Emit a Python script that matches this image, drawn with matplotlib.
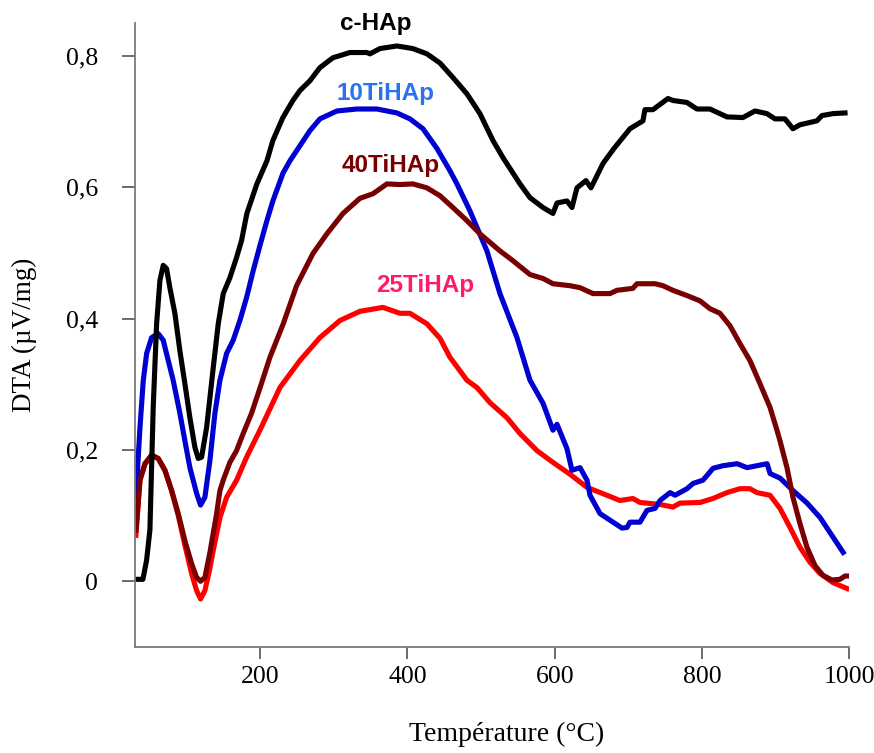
import numpy as np
import matplotlib
matplotlib.use("Agg")
import matplotlib.pyplot as plt

# c-HAp (black)
tBlack = [30, 40.7, 45.7, 50.2, 54.7, 59.3, 63.8, 68.3, 72.8, 77.3, 84.1, 90.9, 97.7, 104.5,
          111.3, 115.8, 120.4, 127.2, 136.2, 143.0, 149.8, 158.8, 167.9, 174.7, 181.9, 195.5,
          209.1, 217.2, 230.8, 244.4, 253.9, 267.5, 281.1, 298.7, 321.8, 344.9, 349.0, 362.6,
          385.7, 407.4, 426.4, 444.1, 461.7, 480.8, 498.4, 516.1, 529.7, 552.8, 566.4, 584.1,
          597.6, 603.1, 616.6, 623.4, 630.2, 642.4, 649.2, 665.5, 680.5, 702.2, 719.8, 722.5,
          733.4, 753.8, 760.5, 779.5, 793.1, 810.8, 833.9, 855.6, 871.9, 888.2, 899.1, 912.6,
          923.5, 933.0, 956.1, 962.9, 977.9, 994.2]
vBlack = [0.003, 0.003, 0.032, 0.078, 0.265, 0.392, 0.458, 0.481, 0.476, 0.447, 0.408, 0.351,
          0.301, 0.249, 0.204, 0.187, 0.189, 0.234, 0.325, 0.392, 0.438, 0.462, 0.493, 0.519,
          0.560, 0.605, 0.640, 0.671, 0.706, 0.732, 0.747, 0.762, 0.782, 0.797, 0.805, 0.805,
          0.803, 0.811, 0.815, 0.811, 0.803, 0.789, 0.767, 0.742, 0.712, 0.671, 0.645, 0.605,
          0.584, 0.569, 0.560, 0.576, 0.579, 0.569, 0.599, 0.610, 0.599, 0.636, 0.659, 0.689,
          0.701, 0.718, 0.718, 0.735, 0.732, 0.729, 0.719, 0.719, 0.707, 0.706, 0.716, 0.712,
          0.704, 0.704, 0.689, 0.695, 0.701, 0.709, 0.712, 0.713]

# 10TiHAp (blue)
tBlue = [31.2, 36.7, 41.2, 45.8, 52.5, 61.5, 68.3, 75.1, 81.8, 90.9, 97.7, 104.5, 113.6, 119.0,
         124.9, 131.7, 138.5, 145.3, 154.4, 163.3, 172.4, 181.5, 190.5, 199.6, 209.1, 217.2,
         230.8, 240.3, 253.9, 267.5, 281.1, 304.2, 331.3, 358.5, 385.7, 403.3, 421.0, 440.0,
         457.7, 467.2, 484.8, 507.9, 525.6, 548.7, 566.4, 584.1, 597.6, 603.1, 616.6, 623.4,
         634.3, 643.8, 647.9, 661.5, 675.1, 691.4, 698.2, 702.2, 715.8, 725.3, 736.2, 743.0,
         756.6, 763.4, 779.7, 787.9, 801.4, 815.0, 828.6, 847.6, 861.2, 888.4, 892.5, 906.1,
         923.7, 942.8, 960.4, 978.1, 991.7]
vBlue = [0.128, 0.234, 0.306, 0.347, 0.371, 0.377, 0.367, 0.336, 0.306, 0.256, 0.214, 0.173,
         0.134, 0.116, 0.128, 0.184, 0.256, 0.306, 0.347, 0.367, 0.397, 0.432, 0.473, 0.511,
         0.549, 0.579, 0.621, 0.640, 0.663, 0.686, 0.704, 0.716, 0.719, 0.719, 0.713, 0.704,
         0.689, 0.659, 0.625, 0.605, 0.564, 0.503, 0.438, 0.371, 0.306, 0.271, 0.230, 0.239,
         0.202, 0.169, 0.173, 0.154, 0.131, 0.103, 0.093, 0.081, 0.082, 0.090, 0.090, 0.108,
         0.111, 0.123, 0.135, 0.131, 0.141, 0.149, 0.154, 0.172, 0.176, 0.179, 0.173, 0.179,
         0.164, 0.157, 0.138, 0.119, 0.097, 0.067, 0.044]

# 40TiHAp (dark red)
tDark = [31.2, 36.7, 43.5, 52.5, 61.5, 70.6, 79.7, 88.7, 97.7, 106.8, 113.6, 119.0, 124.9,
         131.7, 140.8, 145.3, 149.8, 158.8, 167.9, 176.9, 188.3, 199.6, 213.2, 231.3, 249.4,
         271.6, 290.6, 312.4, 335.4, 353.1, 372.1, 389.7, 407.4, 426.4, 444.1, 461.7, 480.8,
         498.4, 525.6, 543.3, 566.4, 584.1, 597.6, 620.7, 634.3, 651.9, 675.1, 684.6, 706.2,
         711.7, 736.2, 747.0, 760.5, 779.6, 797.2, 810.8, 824.4, 838.0, 851.5, 865.1, 878.7,
         892.3, 901.8, 905.9, 915.4, 923.5, 933.0, 942.5, 953.4, 964.3, 976.5, 987.4, 994.2,
         1000]
vDark = [0.078, 0.154, 0.179, 0.192, 0.187, 0.169, 0.138, 0.103, 0.062, 0.027, 0.006, 0.0,
         0.006, 0.044, 0.103, 0.138, 0.154, 0.181, 0.199, 0.225, 0.256, 0.294, 0.341, 0.392,
         0.450, 0.499, 0.529, 0.560, 0.583, 0.590, 0.605, 0.604, 0.605, 0.599, 0.587, 0.569,
         0.549, 0.529, 0.503, 0.488, 0.467, 0.461, 0.453, 0.450, 0.447, 0.438, 0.438, 0.443,
         0.446, 0.453, 0.453, 0.450, 0.443, 0.435, 0.427, 0.415, 0.408, 0.389, 0.362, 0.336,
         0.301, 0.265, 0.230, 0.214, 0.173, 0.128, 0.088, 0.052, 0.024, 0.009, 0.002, 0.003,
         0.008, 0.008]

# 25TiHAp (red)
tRed = [31.2, 36.7, 43.5, 52.5, 61.5, 70.6, 79.7, 88.7, 97.7, 106.8, 113.6, 119.0, 124.9,
        131.7, 136.2, 145.3, 154.4, 168.0, 181.5, 199.6, 226.8, 253.9, 281.1, 308.3, 335.4,
        366.7, 389.7, 403.3, 426.4, 444.1, 457.7, 480.8, 494.3, 512.0, 535.1, 552.8, 575.8,
        597.6, 620.7, 643.8, 670.9, 688.6, 706.2, 715.8, 742.9, 760.5, 770.0, 797.2, 814.8,
        833.9, 851.5, 865.1, 874.6, 892.3, 905.9, 919.5, 933.0, 946.6, 960.2, 977.9, 996.9]
vRed = [0.070, 0.154, 0.179, 0.192, 0.187, 0.169, 0.138, 0.100, 0.055, 0.012, -0.014, -0.027,
        -0.014, 0.020, 0.047, 0.097, 0.128, 0.154, 0.189, 0.230, 0.295, 0.336, 0.371, 0.397,
        0.411, 0.417, 0.408, 0.408, 0.392, 0.370, 0.341, 0.306, 0.295, 0.272, 0.249, 0.225,
        0.199, 0.181, 0.163, 0.143, 0.131, 0.123, 0.126, 0.120, 0.117, 0.113, 0.119, 0.120,
        0.126, 0.135, 0.141, 0.141, 0.135, 0.131, 0.111, 0.082, 0.052, 0.029, 0.012, -0.002,
        -0.011]

xTicks = [200, 400, 600, 800, 1000]
yTicks = [0, 0.2, 0.4, 0.6, 0.8]
yTickLabels = ["0", "0,2", "0,4", "0,6", "0,8"]

serif = "Liberation Serif"
sans = "Liberation Sans"

fig = plt.figure(figsize=(8.74, 7.53), dpi=100)
ax = fig.add_axes([0.1545, 0.1408, 0.8172, 0.8287])

lw = 3.7
ax.plot(tRed, vRed, color="#FF0000", lw=lw, solid_joinstyle="round")
ax.plot(tBlue, vBlue, color="#0000D0", lw=lw, solid_joinstyle="round")
ax.plot(tDark, vDark, color="#780000", lw=lw, solid_joinstyle="round")
ax.plot(tBlack, vBlack, color="black", lw=lw, solid_joinstyle="round")

ax.set_xlim(30, 1000)
ax.set_ylim(-0.1, 0.85)

ax.spines["top"].set_visible(False)
ax.spines["right"].set_visible(False)
for s in ["left", "bottom"]:
    ax.spines[s].set_color("#7a7a7a")
    ax.spines[s].set_linewidth(1.3)

ax.set_xticks(xTicks)
ax.set_xticklabels([str(t) for t in xTicks])
ax.set_yticks(yTicks)
ax.set_yticklabels(yTickLabels)
ax.tick_params(axis="x", direction="out", length=8.6, width=1.1, color="#444444", pad=5)
ax.tick_params(axis="y", direction="out", length=9.4, width=1.1, color="#444444", pad=17)
for lab in ax.get_xticklabels() + ax.get_yticklabels():
    lab.set_fontfamily(serif)
    lab.set_fontsize(18.5)

ax.set_xlabel("Température (°C)", fontfamily=serif, fontsize=20)
ax.xaxis.set_label_coords(0.52, -0.12)
ax.set_ylabel("DTA (µV/mg)", fontfamily=serif, fontsize=19.5)
ax.yaxis.set_label_coords(-0.137, 0.5)

# curve labels
ax.text(357, 0.839, "c-HAp", color="black", fontfamily=sans, fontweight="bold",
        fontsize=17.5, ha="center", va="baseline", clip_on=False)
ax.text(370.7, 0.733, "10TiHAp", color="#2A72F0", fontfamily=sans, fontweight="bold",
        fontsize=17.5, ha="center", va="baseline")
ax.text(377.5, 0.6225, "40TiHAp", color="#780000", fontfamily=sans, fontweight="bold",
        fontsize=17.5, ha="center", va="baseline")
ax.text(424.4, 0.44, "25TiHAp", color="#FF1A6E", fontfamily=sans, fontweight="bold",
        fontsize=17.5, ha="center", va="baseline")

fig.savefig("out.png", dpi=100)
